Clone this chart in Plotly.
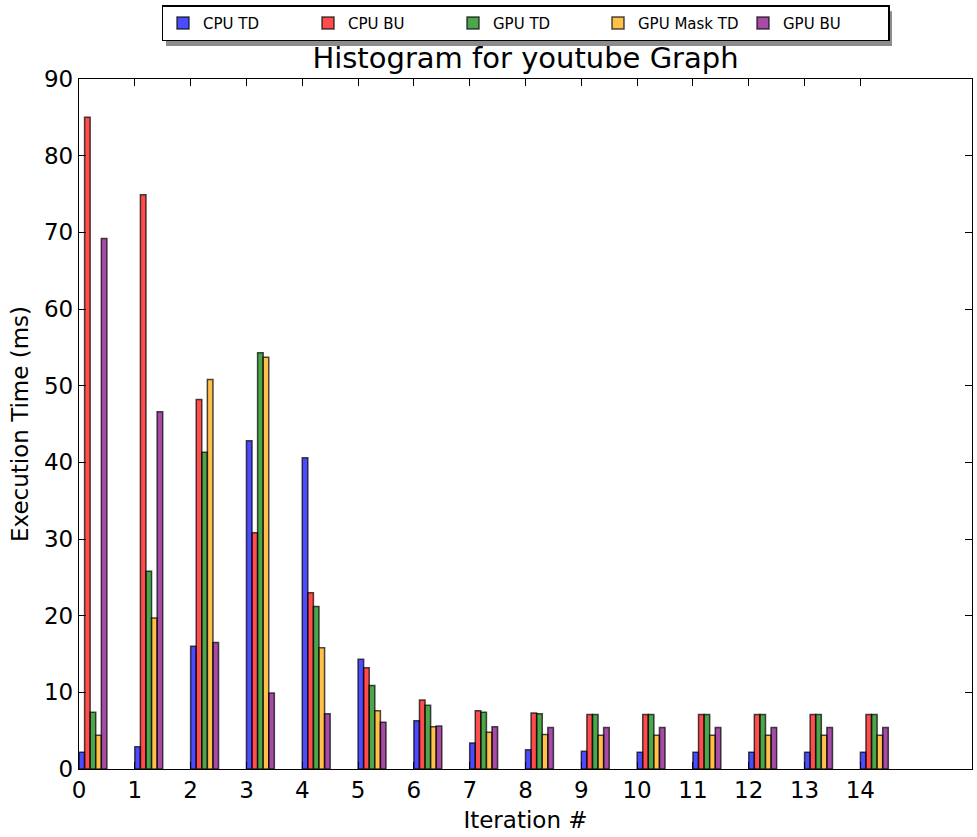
import plotly.graph_objects as go

iterations = list(range(15))
series_names = ["CPU TD", "CPU BU", "GPU TD", "GPU Mask TD", "GPU BU"]
cpu_td = [2.2, 2.9, 16.0, 42.8, 40.6, 14.3, 6.3, 3.4, 2.5, 2.3, 2.2, 2.2, 2.2, 2.2, 2.2]
cpu_bu = [85.0, 74.9, 48.2, 30.8, 23.0, 13.2, 9.0, 7.6, 7.3, 7.1, 7.1, 7.1, 7.1, 7.1, 7.1]
gpu_td = [7.4, 25.8, 41.3, 54.3, 21.2, 10.9, 8.3, 7.4, 7.2, 7.1, 7.1, 7.1, 7.1, 7.1, 7.1]
gpu_mask_td = [4.4, 19.7, 50.8, 53.7, 15.8, 7.6, 5.5, 4.8, 4.5, 4.4, 4.4, 4.4, 4.4, 4.4, 4.4]
gpu_bu = [69.2, 46.6, 16.5, 9.9, 7.2, 6.1, 5.6, 5.5, 5.4, 5.4, 5.4, 5.4, 5.4, 5.4, 5.4]
series_values = [cpu_td, cpu_bu, gpu_td, gpu_mask_td, gpu_bu]
colors = ["rgba(0,0,255,0.7)", "rgba(255,0,0,0.7)", "rgba(0,128,0,0.7)",
          "rgba(255,165,0,0.7)", "rgba(128,0,128,0.7)"]
bar_width = 0.1

FONT = "DejaVu Sans"
W, H = 977, 837
L, R, T, B = 79, 5, 77, 68
pw, ph = W - L - R, H - T - B

fig = go.Figure()
for k, (name, vals, col) in enumerate(zip(series_names, series_values, colors)):
    fig.add_trace(go.Bar(
        x=iterations, y=vals, name=name,
        width=bar_width, offset=k * bar_width,
        marker=dict(color=col, line=dict(color="rgba(0,0,0,0.7)", width=1.5)),
    ))

def px2x(px):
    return (px - L) / pw

def px2y(py):
    return (H - B - py) / ph

# legend drop shadow (legend box itself is drawn on top)
fig.add_shape(type="rect", xref="paper", yref="paper",
              x0=px2x(166), x1=px2x(892), y0=px2y(44), y1=px2y(9),
              fillcolor="rgba(0,0,0,0.45)", line=dict(width=0), layer="above")

fig.update_layout(
    width=W, height=H,
    margin=dict(l=L, r=R, t=T, b=B),
    barmode="overlay",
    plot_bgcolor="white", paper_bgcolor="white",
    font=dict(family=FONT, color="black", size=21),
    title=dict(text="Histogram for youtube Graph", x=(L + pw / 2) / W, xanchor="center",
               y=1 - 58 / H, yanchor="middle", yref="container",
               font=dict(size=29, family=FONT, color="black")),
    legend=dict(orientation="h", x=0.5, xanchor="center", y=px2y(3), yanchor="top",
                bordercolor="black", borderwidth=1.5, bgcolor="white",
                font=dict(size=15, family=FONT), itemwidth=30,
                entrywidth=100, entrywidthmode="pixels", traceorder="normal"),
    xaxis=dict(range=[0, 16], tickvals=iterations, ticktext=[str(i) for i in iterations],
               ticks="inside", ticklen=7, tickcolor="black", showline=True, linecolor="black",
               linewidth=1.3, mirror="ticks", showgrid=False, zeroline=False,
               tickfont=dict(size=23, family=FONT),
               title=dict(text="Iteration #", font=dict(size=23, family=FONT), standoff=10)),
    yaxis=dict(range=[0, 90], dtick=10, ticks="inside", ticklen=7, tickcolor="black",
               showline=True, linecolor="black", linewidth=1.3, mirror="ticks",
               showgrid=False, zeroline=False, tickfont=dict(size=23, family=FONT),
               title=dict(text="Execution Time (ms)", font=dict(size=23, family=FONT), standoff=8)),
)

fig.write_html("out.html")
